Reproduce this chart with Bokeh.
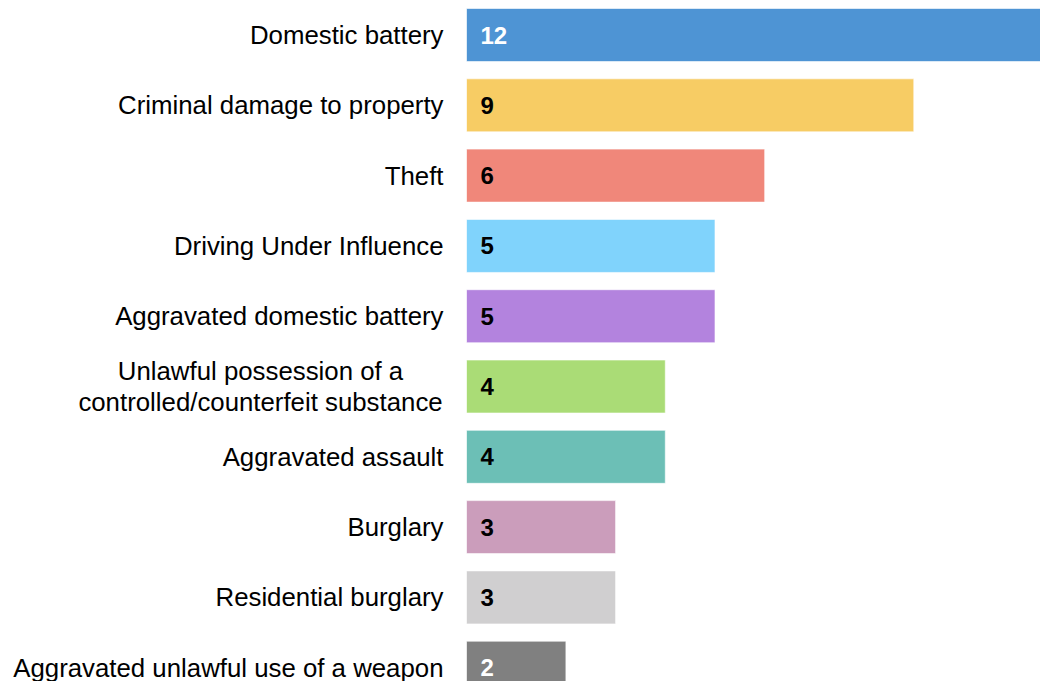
from bokeh.plotting import figure
from bokeh.models import ColumnDataSource, Range1d
from bokeh.core.properties import value
from bokeh.embed import file_html
from bokeh.resources import INLINE

categories = [
    "Domestic battery",
    "Criminal damage to property",
    "Theft",
    "Driving Under Influence",
    "Aggravated domestic battery",
    "Unlawful possession of a\ncontrolled/counterfeit substance",
    "Aggravated assault",
    "Burglary",
    "Residential burglary",
    "Aggravated unlawful use of a weapon",
]
counts = [12, 9, 6, 5, 5, 4, 4, 3, 3, 2]
colors = ["#4e94d4", "#f7cc64", "#f0877a", "#80d3fc", "#b383de",
          "#aadc76", "#6cbfb6", "#cb9dbb", "#d0cfd0", "#808080"]
value_colors = ["white", "black", "black", "black", "black",
                "black", "black", "black", "black", "white"]

pos = list(range(len(categories)))
multiline = ["\n" in c for c in categories]

bars = ColumnDataSource(dict(y=pos, right=counts, color=colors,
                             vtxt=[str(c) for c in counts], vcol=value_colors,
                             zero=[0] * len(counts)))
single = ColumnDataSource(dict(
    y=[p for p, m in zip(pos, multiline) if not m],
    label=[c for c, m in zip(categories, multiline) if not m],
    zero=[0] * sum(1 for m in multiline if not m)))
multi = ColumnDataSource(dict(
    y=[p for p, m in zip(pos, multiline) if m],
    label=[c for c, m in zip(categories, multiline) if m],
    zero=[0] * sum(1 for m in multiline if m)))

p = figure(width=1040, height=681, output_backend="svg", toolbar_location=None,
           x_range=Range1d(0, 11.55), y_range=Range1d(9.196, -0.491),
           min_border_left=466, min_border_right=0, min_border_top=0,
           min_border_bottom=0)
p.xaxis.visible = False
p.yaxis.visible = False
p.xgrid.grid_line_color = None
p.ygrid.grid_line_color = None
p.outline_line_color = None
p.background_fill_color = "white"

p.hbar(y="y", left="zero", right="right", height=0.754, source=bars,
       fill_color="color", line_color="white", line_alpha=0.6, line_width=1)

vt = p.text(x="zero", y="y", text="vtxt", source=bars, text_color="vcol",
            text_font=value("Liberation Sans"), text_font_style="bold",
            text_font_size="24px", text_align="left", text_baseline="middle",
            x_offset=14)

lt = p.text(x="zero", y="y", text="label", source=single, text_color="black",
            text_font=value("Liberation Sans"), text_font_size="25.8px",
            text_align="right", text_baseline="middle", x_offset=-23)
lt.level = "overlay"

mt = p.text(x="zero", y="y", text="label", source=multi, text_color="black",
            text_font=value("Liberation Sans"), text_font_size="25.8px",
            text_align="center", text_baseline="middle", x_offset=-206,
            text_line_height=1.12)
mt.level = "overlay"

open("out.html", "w").write(file_html(p, INLINE))
